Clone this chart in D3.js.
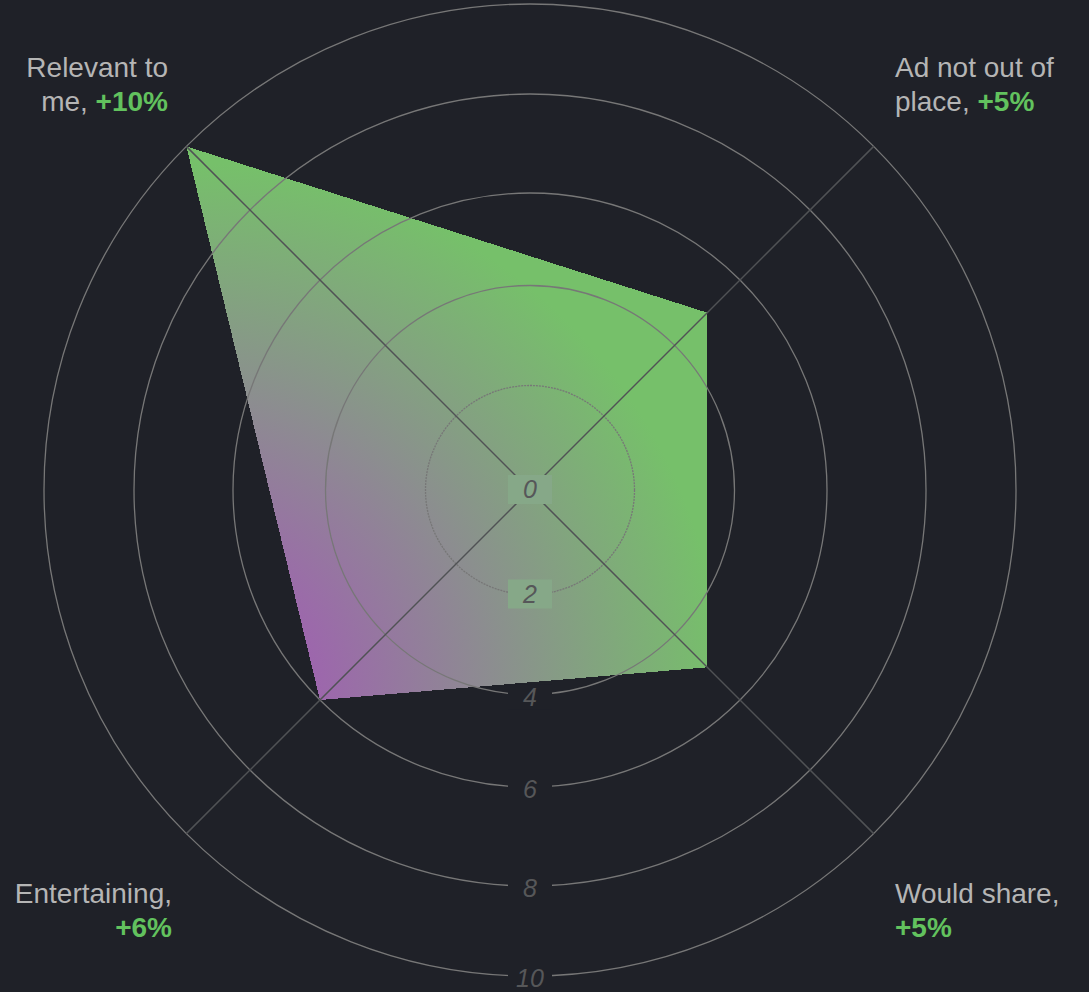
<!DOCTYPE html>
<html><head><meta charset="utf-8">
<script src="https://cdn.jsdelivr.net/npm/d3@7"></script>
<style>html,body{margin:0;padding:0;background:#1f2128;} svg{display:block;}</style>
</head><body><svg id="chart" width="1089" height="992"></svg>
<script>
// ---- data ----
const categories = ["Relevant to me", "Ad not out of place", "Would share", "Entertaining"];
const labelLines = [["Relevant to", "me,"], ["Ad not out of", "place,"], ["Would share,", ""], ["Entertaining,", ""]];
const values = [10, 5, 5, 6];
const changes = ["+10%", "+5%", "+5%", "+6%"];
const ticks = [0, 2, 4, 6, 8, 10];

// ---- layout ----
const W = 1089, H = 992, cx = 530, cy = 490;
const BG = "#1f2128";
const svg = d3.select("#chart");
svg.append("rect").attr("width", W).attr("height", H).attr("fill", BG);

const r = d3.scaleLinear().domain(ticks).range([0, 104.5, 204.5, 297, 396, 486]);
const angle = i => -Math.PI / 4 + i * Math.PI / 2;
const pt = (v, i) => [r(v) * Math.sin(angle(i)), -r(v) * Math.cos(angle(i))];
const pts = values.map(pt);

const g = svg.append("g").attr("transform", `translate(${cx},${cy})`);

// gradient in user space based on polygon bbox
const xs = pts.map(p => p[0]), ys = pts.map(p => p[1]);
const x0 = d3.min(xs), x1 = d3.max(xs), y0 = d3.min(ys), y1 = d3.max(ys);
const defs = svg.append("defs");
const grad = defs.append("radialGradient").attr("id", "areaGrad")
  .attr("gradientUnits", "userSpaceOnUse")
  .attr("cx", x0).attr("cy", y1).attr("fx", x0).attr("fy", y1)
  .attr("r", ((x1 - x0) + (y1 - y0)) / 2);
grad.append("stop").attr("offset", 0.18).attr("stop-color", "#a05fb2");
grad.append("stop").attr("offset", 1).attr("stop-color", "#76c06a");

// area
const line = d3.lineRadial()
  .angle((d, i) => angle(i))
  .radius(d => r(d))
  .curve(d3.curveLinearClosed);
g.append("path").datum(values)
  .attr("d", line)
  .attr("fill", "url(#areaGrad)")
  .attr("shape-rendering", "crispEdges");

// rings
g.selectAll("circle.ring").data(ticks.slice(1)).join("circle")
  .attr("class", "ring")
  .attr("r", d => r(d))
  .attr("fill", "none")
  .attr("stroke", "#777")
  .attr("stroke-width", 1.3)
  .attr("stroke-dasharray", (d, i) => i === 0 ? "2,1" : null);

// axes
g.selectAll("line.axis").data(categories).join("line")
  .attr("class", "axis")
  .attr("x1", 0).attr("y1", 0)
  .attr("x2", (d, i) => pt(ticks[ticks.length - 1], i)[0])
  .attr("y2", (d, i) => pt(ticks[ticks.length - 1], i)[1])
  .attr("stroke", "#505255")
  .attr("stroke-width", 1.5);

// tick labels
const inside = d => d3.polygonContains(pts, [0, r(d)]);
const tg = g.selectAll("g.tick").data(ticks).join("g")
  .attr("class", "tick")
  .attr("transform", d => `translate(0,${r(d)})`);
tg.append("rect")
  .attr("x", -22).attr("width", 44)
  .attr("y", d => inside(d) ? -15 : -10)
  .attr("height", d => inside(d) ? 29 : 25)
  .attr("fill", d => inside(d) ? "#86a888" : BG);
tg.append("text")
  .attr("text-anchor", "middle")
  .attr("y", d => inside(d) ? -1 : 2)
  .attr("dy", "0.36em")
  .attr("font-family", "'Liberation Sans', Arial, Helvetica, sans-serif")
  .attr("font-style", "italic")
  .attr("font-size", 25)
  .attr("fill", "#565759")
  .text(d => d);

// category labels
const font = "'Liberation Sans', Arial, Helvetica, sans-serif";
categories.forEach((c, i) => {
  const a = angle(i);
  const right = Math.sin(a) > 0, top = Math.cos(a) > 0;
  const x = right ? cx + 365 : (top ? cx - 362 : cx - 358);
  const yb = top ? 77 : 903;
  const anchor = right ? "start" : "end";
  const lines = labelLines[i];
  svg.append("text").attr("x", x).attr("y", yb)
    .attr("text-anchor", anchor).attr("font-family", font).attr("font-size", 28)
    .attr("fill", "#b5b5b5").text(lines[0]);
  const t2 = svg.append("text").attr("x", x).attr("y", yb + 34)
    .attr("text-anchor", anchor).attr("font-family", font).attr("font-size", 28);
  if (lines[1]) t2.append("tspan").attr("fill", "#b5b5b5").text(lines[1] + " ");
  t2.append("tspan").attr("fill", "#62c25e").attr("font-weight", "bold").text(changes[i]);
});
</script></body></html>
